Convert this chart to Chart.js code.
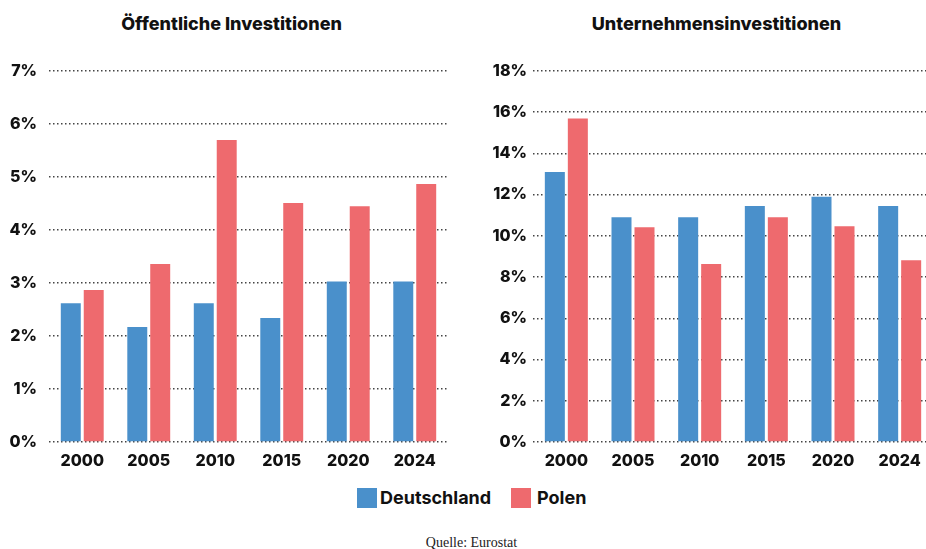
<!DOCTYPE html>
<html><head><meta charset="utf-8">
<script src="https://cdn.jsdelivr.net/npm/chart.js@4/dist/chart.umd.min.js"></script>
<style>
html,body{margin:0;padding:0;background:#fff;}
body{width:926px;height:549px;position:relative;overflow:hidden;font-family:Inter,"Liberation Sans",sans-serif;color:#111;}
.title{position:absolute;top:13px;font-weight:800;font-size:18px;text-align:center;white-space:nowrap;}
.wrap{position:absolute;top:0;height:480px;}
.sq{position:absolute;width:20px;height:20px;top:488px;}
.lt{position:absolute;top:486px;font-weight:700;font-size:18px;line-height:24px;white-space:nowrap;}
.src{position:absolute;left:0;width:943px;text-align:center;top:535px;font-family:"Liberation Serif",serif;font-size:14px;color:#222;}
</style></head>
<body>
<div class="title" style="left:0;width:463px;">Öffentliche Investitionen</div>
<div class="title" style="left:480px;width:473px;">Unternehmensinvestitionen</div>
<div class="wrap" style="left:0;width:463px;"><canvas id="c1"></canvas></div>
<div class="wrap" style="left:463px;width:475px;"><canvas id="c2"></canvas></div>
<div class="sq" style="left:357px;background:#4A90CB;"></div>
<div class="lt" style="left:380px;">Deutschland</div>
<div class="sq" style="left:511px;background:#EE6A6E;"></div>
<div class="lt" style="left:537px;">Polen</div>
<div class="src">Quelle: Eurostat</div>
<script>
const years = ['2000','2005','2010','2015','2020','2024'];
const publicDE = [2.62, 2.17, 2.62, 2.34, 3.03, 3.03];
const publicPL = [2.87, 3.36, 5.70, 4.51, 4.45, 4.87];
const businessDE = [13.1, 10.9, 10.9, 11.45, 11.9, 11.45];
const businessPL = [15.7, 10.42, 8.64, 10.9, 10.47, 8.82];
const seriesNames = ['Deutschland','Polen'];
const colors = ['#4A90CB','#EE6A6E'];

function make(id, de, pl, max, step, yWidth, yPad, padRight) {
  new Chart(document.getElementById(id), {
    type: 'bar',
    data: {
      labels: years,
      datasets: [
        {label: seriesNames[0], data: de, backgroundColor: colors[0], categoryPercentage: 0.69, barPercentage: 0.87},
        {label: seriesNames[1], data: pl, backgroundColor: colors[1], categoryPercentage: 0.69, barPercentage: 0.87}
      ]
    },
    options: {
      responsive: true, maintainAspectRatio: false, animation: false,
      layout: {padding: {top: 71, left: 0, right: padRight, bottom: 8}},
      plugins: {legend: {display: false}, tooltip: {enabled: false}},
      scales: {
        x: {
          grid: {display: false, drawTicks: false},
          border: {display: false},
          ticks: {color: '#111', font: {family: 'Inter', weight: '800', size: 16}, padding: 10},
          afterFit: s => { s.height = 30; }
        },
        y: {
          min: 0, max: max,
          grid: {color: '#444', lineWidth: 1.5, drawTicks: false},
          border: {display: false, dash: [1.5, 2.5]},
          ticks: {stepSize: step, color: '#111', font: {family: 'Inter', weight: '800', size: 16}, padding: yPad,
                  callback: v => v + '%'},
          afterFit: s => { s.width = yWidth; }
        }
      }
    }
  });
}
make('c1', publicDE, publicPL, 7, 1, 49, 12, 15);
make('c2', businessDE, businessPL, 18, 2, 70, 6, 5);
</script>
</body></html>
